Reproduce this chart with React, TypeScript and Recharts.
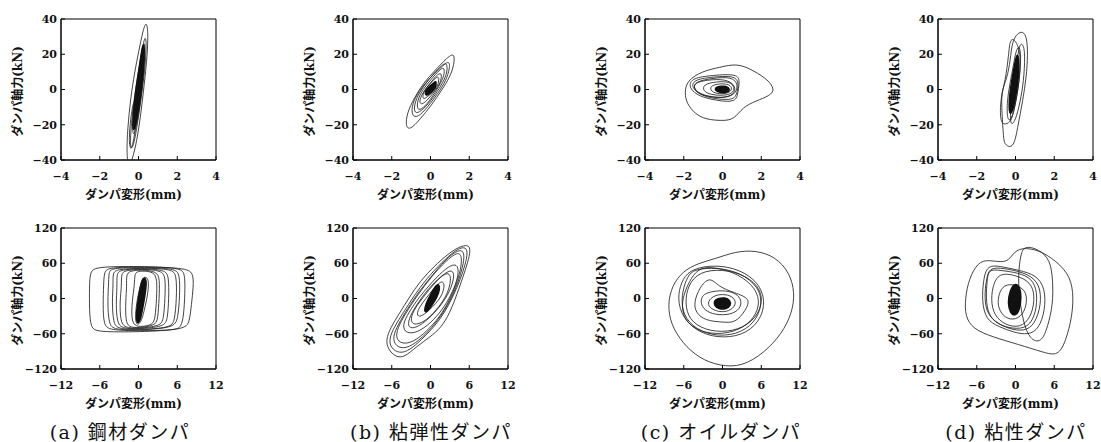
import { ReferenceArea, Scatter, ScatterChart, XAxis, YAxis } from 'recharts';

// Damper hysteresis loops: small excitation (top row), large excitation (bottom row).
// Each loop is a list of [displacement mm, axial force kN] points.

type Pt = [number, number];

const smallXTicks = [-4, -2, 0, 2, 4];
const smallYTicks = [-40, -20, 0, 20, 40];
const largeXTicks = [-12, -6, 0, 6, 12];
const largeYTicks = [-120, -60, 0, 60, 120];

const captions = ['(a) 鋼材ダンパ', '(b) 粘弾性ダンパ', '(c) オイルダンパ', '(d) 粘性ダンパ'];
const xTitle = 'ダンパ変形(mm)';
const yTitle = 'ダンパ軸力(kN)';

// (a) steel damper
const steelSmall: Pt[][] = [
  [[0.4, 39], [0.5, 33], [0.46, 20], [0.3, 3], [0.12, -14], [-0.08, -29], [-0.32, -40], [-0.5, -44], [-0.62, -37], [-0.56, -22], [-0.42, -6], [-0.2, 10], [0.02, 22], [0.22, 33]],
  [[0.36, 31], [0.42, 25], [0.3, 8], [0.1, -8], [-0.1, -23], [-0.3, -34], [-0.44, -33], [-0.38, -20], [-0.2, -3], [0.02, 12], [0.22, 25]],
  [[-0.1, -8], [-0.12, -20], [-0.28, -31], [-0.42, -35], [-0.5, -28], [-0.4, -16], [-0.26, -6]],
  [[0.3, 28], [0.36, 22], [0.24, 6], [0.06, -10], [-0.12, -22], [-0.28, -27], [-0.32, -20], [-0.18, -5], [0.02, 10], [0.18, 22]],
  [[0.26, 26], [0.3, 20], [0.18, 5], [0.02, -8], [-0.14, -20], [-0.24, -22], [-0.24, -14], [-0.1, 0], [0.06, 12], [0.18, 22]],
];
const steelSmallCore: Pt[] = [[0.3, 27], [0.3, 16], [0.16, 0], [0, -12], [-0.18, -22], [-0.3, -24], [-0.28, -14], [-0.14, 0], [0.04, 12], [0.18, 24]];

const steelLarge: Pt[][] = [
  [[-6.6, 54], [0, 55], [7.2, 52], [8.5, 44], [8.5, 20], [8.2, -10], [7.9, -40], [7.2, -53], [0, -57], [-6.4, -57], [-7.4, -50], [-7.6, -20], [-7.6, 20], [-7.5, 46]],
  [[-4.6, 53], [1, 54], [6.4, 52], [7.2, 44], [7.2, 10], [7.0, -30], [6.6, -48], [5.8, -54], [0, -55], [-4.5, -54], [-5.4, -45], [-5.5, -10], [-5.4, 25], [-5.3, 46]],
  [[-4.0, 52], [1, 53], [5.6, 51], [6.4, 42], [6.4, 5], [6.1, -35], [5.5, -50], [0, -54], [-3.8, -53], [-4.6, -44], [-4.8, -5], [-4.6, 30], [-4.6, 46]],
  [[-3.3, 50], [1, 52], [5.2, 50], [5.9, 40], [5.9, 0], [5.6, -38], [5.0, -50], [0, -53], [-3.2, -52], [-3.9, -42], [-4.1, -5], [-3.9, 25], [-4.0, 44]],
  [[-2.8, 49], [0.5, 51], [4.1, 49], [4.7, 38], [4.7, 0], [4.5, -35], [4.0, -48], [0, -52], [-2.7, -51], [-3.3, -40], [-3.5, -10], [-3.3, 20], [-3.4, 42]],
  [[-2.1, 48], [0.5, 50], [3.6, 48], [4.2, 36], [4.1, 0], [3.9, -35], [3.4, -47], [0, -51], [-2.2, -50], [-2.8, -38], [-2.9, -5], [-2.6, 22], [-2.7, 42]],
  [[-1.4, 47], [0.5, 49], [2.8, 46], [3.3, 34], [3.2, 0], [3.0, -35], [2.6, -46], [0, -50], [-1.5, -49], [-2.0, -38], [-2.0, -5], [-1.8, 22], [-1.9, 40]],
  [[-0.3, 46], [0.8, 47], [2.4, 45], [2.9, 32], [2.8, 0], [2.6, -33], [2.2, -45], [0.5, -48], [-0.6, -47], [-1.1, -35], [-1.0, -5], [-0.6, 25], [-0.6, 40]],
  [[1.0, 38], [1.6, 33], [1.5, 10], [1.0, -15], [0.5, -38], [-0.1, -46], [-0.5, -40], [-0.4, -15], [0, 10], [0.5, 32]],
];
const steelLargeCore: Pt[] = [[0.9, 36], [1.3, 30], [1.0, 5], [0.6, -20], [0.2, -40], [-0.2, -43], [-0.4, -30], [-0.1, -5], [0.3, 20], [0.6, 33]];

// (b) viscoelastic damper
const viscoelasticSmall: Pt[][] = [
  [[1.25, 21], [1.22, 14], [1.0, 7], [0.6, 0], [0.05, -9], [-0.55, -17], [-1.05, -23], [-1.3, -21], [-1.2, -13], [-0.85, -5], [-0.35, 4], [0.25, 11], [0.85, 18]],
  [[0.98, 17], [1.0, 12], [0.8, 5], [0.4, -2], [-0.15, -10], [-0.65, -16], [-0.98, -15], [-0.95, -8], [-0.6, -1], [-0.1, 6], [0.5, 12]],
  [[0.85, 15.5], [0.88, 10], [0.65, 4], [0.25, -3], [-0.25, -10], [-0.7, -14], [-0.88, -12], [-0.75, -5], [-0.35, 2], [0.15, 9], [0.6, 14]],
  [[0.72, 13], [0.72, 8], [0.45, 2], [0.05, -5], [-0.4, -11], [-0.7, -12], [-0.68, -6], [-0.4, 0], [0.05, 6], [0.45, 11]],
  [[0.58, 10], [0.56, 5], [0.3, 0], [-0.08, -5], [-0.45, -9], [-0.6, -7], [-0.42, -2], [-0.05, 3], [0.3, 8]],
  [[0.45, 8], [0.42, 3], [0.18, -1], [-0.15, -4], [-0.4, -6], [-0.4, -2], [-0.15, 2], [0.2, 6]],
];
const viscoelasticSmallCore: Pt[] = [[0.3, 5], [0.28, 1], [0.02, -2], [-0.25, -4], [-0.3, -1], [-0.05, 2], [0.2, 4]];

const viscoelasticLarge: Pt[][] = [
  [[5.9, 92], [6.2, 82], [5.8, 62], [5.0, 36], [4.2, 10], [3.0, -25], [1.6, -50], [0, -65], [-2.2, -82], [-4.0, -100], [-5.4, -100], [-6.6, -86], [-6.9, -70], [-6.2, -50], [-4.8, -25], [-3.4, 0], [-1.6, 30], [0.6, 55], [2.6, 75], [4.4, 88]],
  [[5.3, 89], [5.8, 80], [5.4, 58], [4.6, 32], [3.6, 6], [2.2, -24], [0.6, -48], [-1.4, -70], [-3.2, -88], [-4.8, -94], [-6.2, -84], [-6.4, -68], [-5.6, -48], [-4.2, -24], [-2.6, 4], [-0.6, 34], [1.8, 62], [3.8, 82]],
  [[4.7, 85], [5.3, 76], [5.0, 54], [4.3, 28], [3.3, 2], [1.9, -26], [0.2, -50], [-1.8, -72], [-3.8, -86], [-5.4, -82], [-5.9, -66], [-5.0, -44], [-3.6, -18], [-1.8, 12], [0.6, 44], [2.8, 72]],
  [[4.2, 80], [4.9, 72], [4.7, 50], [4.0, 24], [2.9, -4], [1.4, -32], [-0.6, -56], [-2.6, -74], [-4.4, -78], [-5.4, -68], [-5.1, -50], [-3.9, -26], [-2.0, 6], [0.2, 38], [2.4, 64]],
  [[3.2, 50], [3.7, 42], [3.4, 24], [2.5, 2], [1.0, -20], [-0.8, -40], [-2.6, -52], [-3.6, -48], [-3.2, -30], [-2.0, -8], [-0.4, 16], [1.6, 38]],
  [[3.9, 60], [4.4, 50], [4.1, 30], [3.2, 6], [1.8, -20], [0, -42], [-2.0, -58], [-3.8, -60], [-4.4, -46], [-3.4, -24], [-1.8, 2], [0.4, 30], [2.4, 52]],
  [[2.8, 44], [3.2, 36], [2.9, 16], [2.0, -4], [0.6, -24], [-1.0, -40], [-2.6, -46], [-3.2, -36], [-2.4, -16], [-1.0, 4], [0.6, 26], [1.9, 40]],
  [[1.9, 30], [2.2, 22], [1.8, 6], [0.9, -8], [-0.4, -22], [-1.6, -32], [-2.2, -28], [-1.7, -14], [-0.7, 0], [0.4, 16], [1.3, 26]],
];
const viscoelasticLargeCore: Pt[] = [[1.2, 26], [1.5, 16], [1.0, 2], [0.2, -12], [-0.6, -24], [-1.0, -22], [-0.7, -8], [0, 6], [0.7, 20]];

// (c) oil damper
const oilSmall: Pt[][] = [
  [[-1.02, 10.5], [-0.16, 12.5], [0.78, 15], [1.64, 10.5], [2.35, 5.5], [2.7, 0], [2.45, -3.5], [1.73, -6.5], [1.04, -10], [0.61, -17], [0, -17.8], [-0.85, -17], [-1.4, -14], [-1.85, -8], [-1.95, -2], [-1.85, 5]],
  [[-1.63, 6.3], [-0.68, 7.9], [0.7, 9], [0.9, 5.5], [0.8, -1], [0.72, -7.5], [-0.34, -6.2], [-1.2, -4], [-1.75, 0.8]],
  [[-1.5, 5.5], [-0.6, 7], [0.6, 8], [0.85, 4], [0.75, -2], [0.6, -6], [-0.3, -5.5], [-1.1, -3.5], [-1.6, 1]],
  [[-1.4, 4.5], [-0.5, 6.5], [0.5, 7.2], [0.8, 3], [0.7, -2], [0.3, -4.5], [-0.5, -4.5], [-1.2, -2.5], [-1.5, 1]],
  [[-1.55, 3.5], [-0.8, 5.5], [0.2, 6], [0.7, 2], [0.6, -3], [0, -5], [-0.8, -4], [-1.4, -1.5]],
  [[-1.0, 3], [-0.3, 4.5], [0.4, 4.5], [0.65, 1], [0.5, -2.5], [0, -3.5], [-0.6, -3], [-1.0, -1]],
  [[-0.6, 2.5], [0, 3.5], [0.45, 2.5], [0.5, -0.5], [0.2, -2.5], [-0.3, -2.5], [-0.65, -0.5]],
];
const oilSmallCore: Pt[] = [[-0.35, 1.6], [0.1, 2.2], [0.4, 0.6], [0.3, -1.6], [-0.1, -2], [-0.4, -0.6]];

const oilLarge: Pt[][] = [
  [[-1.0, 68], [2.0, 80], [5.2, 82], [8.2, 71], [10.4, 44], [11.2, 10], [10.8, -24], [9.2, -60], [6.4, -93], [3.0, -116], [-0.4, -115], [-3.6, -102], [-6.2, -76], [-8.0, -44], [-8.5, -10], [-7.8, 22], [-6.2, 46], [-3.8, 60]],
  [[-5.2, 48], [-2.0, 57], [1.8, 53], [5.0, 34], [6.6, 4], [6.2, -32], [3.8, -60], [0.2, -68], [-3.4, -60], [-6.2, -34], [-7.0, 0], [-6.4, 28]],
  [[-4.4, 50], [-0.8, 53], [2.8, 44], [5.6, 20], [6.2, -10], [5.0, -42], [2.2, -62], [-1.6, -64], [-4.8, -48], [-6.4, -20], [-6.2, 14], [-5.4, 38]],
  [[-2.6, 55], [0.8, 49], [4.0, 31], [5.8, 4], [5.4, -26], [3.4, -50], [0, -62], [-3.6, -57], [-6.0, -37], [-6.4, -6], [-5.4, 24], [-4.2, 46]],
  [[-3.6, 46], [0, 50], [3.6, 40], [6.2, 14], [6.0, -20], [4.0, -46], [0.8, -58], [-2.8, -54], [-5.2, -36], [-5.8, -8], [-5.4, 22]],
  [[-2.0, 38], [-0.6, 20], [1.8, 10], [4.4, 0], [3.6, -20], [2.0, -42], [0, -40], [-2.6, -38], [-4.2, -24], [-4.4, -6], [-3.6, 18]],
  [[-2.4, 10], [-0.6, 14], [1.6, 12], [3.0, 0], [2.8, -18], [1.2, -28], [-1.2, -28], [-2.8, -20], [-3.4, -8], [-3.2, 4]],
  [[-1.6, 4], [0, 8], [1.6, 4], [2.2, -8], [1.4, -20], [-0.2, -24], [-1.8, -18], [-2.4, -8]],
];
const oilLargeCore: Pt[] = [[-0.8, 0], [0.4, 2], [1.2, -3], [1.3, -12], [0.6, -18], [-0.6, -18], [-1.3, -12], [-1.3, -4]];

// (d) viscous damper
const viscousSmall: Pt[][] = [
  [[0.1, 32], [0.38, 33], [0.58, 30], [0.64, 20], [0.56, 7], [0.38, -6], [0.12, -21], [-0.05, -31], [-0.3, -33], [-0.55, -31], [-0.62, -28], [-0.7, -13], [-0.74, -1], [-0.44, 6], [-0.26, 17], [-0.18, 27]],
  [[-0.16, 29], [0.05, 27], [0.28, 20], [0.2, 4], [-0.05, -11], [-0.22, -18], [-0.5, -20], [-0.8, -19], [-0.78, -5], [-0.52, 5], [-0.35, 20], [-0.3, 27]],
  [[0.3, 27], [0.5, 23], [0.45, 8], [0.3, -4], [0.05, -16], [-0.2, -21], [-0.3, -16], [-0.15, -3], [0.05, 12], [0.15, 23]],
  [[0.18, 25], [0.3, 20], [0.2, 5], [0, -8], [-0.2, -17], [-0.42, -18], [-0.45, -8], [-0.3, 3], [-0.1, 14], [0.02, 22]],
];
const viscousSmallCore: Pt[] = [[0.12, 22], [0.2, 12], [0.08, 0], [-0.12, -12], [-0.32, -15], [-0.34, -6], [-0.2, 5], [-0.02, 16]];

const viscousLarge: Pt[][] = [
  [[0.4, 86], [3.0, 85], [5.6, 70], [8.2, 44], [9.0, 12], [8.8, -30], [7.8, -72], [6.6, -98], [4.4, -92], [0.4, -78], [-3.4, -66], [-6.6, -52], [-7.8, -30], [-7.8, 0], [-7.2, 34], [-5.8, 62], [-4.2, 66], [-1.6, 60], [-0.6, 72]],
  [[1.4, 90], [3.6, 84], [5.4, 66], [5.8, 30], [5.8, -10], [5.0, -48], [4.0, -76], [2.2, -70], [1.2, -40], [0.6, 0], [0.4, 40], [0.8, 76]],
  [[-4.4, 58], [-2.0, 54], [0.6, 48], [3.2, 40], [4.6, 18], [4.6, -20], [3.6, -52], [2.0, -62], [-0.2, -58], [-2.6, -48], [-4.6, -36], [-5.2, -4], [-5.0, 30]],
  [[-3.8, 54], [-1.0, 50], [2.0, 42], [3.8, 24], [4.0, -10], [3.0, -44], [1.4, -56], [-1.0, -52], [-3.2, -40], [-4.6, -22], [-4.8, 10], [-4.4, 40]],
  [[-4.2, 50], [-2.4, 48], [0.4, 44], [2.6, 34], [3.4, 10], [3.2, -24], [2.0, -50], [-0.4, -52], [-2.8, -44], [-4.2, -28], [-4.6, 0], [-4.4, 30]],
  [[-2.6, 44], [0, 40], [2.4, 28], [3.0, 4], [2.6, -26], [1.2, -48], [-1.0, -48], [-3.0, -34], [-3.8, -10], [-3.6, 20]],
  [[-1.8, 24], [0, 24], [1.6, 14], [1.8, -6], [1.2, -28], [-0.4, -38], [-2.0, -30], [-2.8, -12], [-2.6, 8]],
];
const viscousLargeCore: Pt[] = [[-0.2, 26], [0.6, 22], [0.9, 5], [0.7, -18], [0, -30], [-0.8, -26], [-1.2, -8], [-0.9, 12]];

const plotLefts = [61, 353, 645, 938];
const captionCenters = [120, 431, 721, 1016];

const NUM_FONT = "'DejaVu Serif', serif";
const JP_FONT = "'DejaVu Serif', 'Noto Sans CJK JP', sans-serif";

const fmt = (v: number) => (v < 0 ? '\u2212' + Math.abs(v) : String(v));
const toData = (loop: Pt[]) => loop.map(([x, y]) => ({ x, y }));
const NoDot = () => <g />;

const renderXTitle = (p: any) => {
  const vb = p.viewBox ?? { x: 61, y: 151, width: 155, height: 50 };
  return (
    <text
      x={vb.x + vb.width / 2 - 5}
      y={vb.y + 35}
      textAnchor="middle"
      dominantBaseline="central"
      fontFamily={JP_FONT}
      fontWeight="bold"
      fontSize={12}
      fill="#111"
    >
      {xTitle}
    </text>
  );
};

const renderYTitle = (p: any) => {
  const vb = p.viewBox ?? { x: 0, y: 10, width: 61, height: 141 };
  const cx = vb.x + 18;
  const cy = vb.y + vb.height / 2 + 2;
  return (
    <text
      x={cx}
      y={cy}
      transform={`rotate(-90 ${cx} ${cy})`}
      textAnchor="middle"
      dominantBaseline="central"
      fontFamily={JP_FONT}
      fontWeight="bold"
      fontSize={12}
      fill="#111"
    >
      {yTitle}
    </text>
  );
};

interface PanelProps {
  left: number;
  top: number;
  loops: Pt[][];
  core: Pt[];
  xTicks: number[];
  yTicks: number[];
}

function Panel({ left, top, loops, core, xTicks, yTicks }: PanelProps) {
  const xMin = xTicks[0];
  const xMax = xTicks[xTicks.length - 1];
  const yMin = yTicks[0];
  const yMax = yTicks[yTicks.length - 1];
  const tick = { fontSize: 11, fontFamily: NUM_FONT, fontWeight: 'bold', fill: '#111' };
  return (
    <div style={{ position: 'absolute', left: left - 61, top: top - 10 }}>
      <ScatterChart width={226} height={201} margin={{ top: 10, right: 10, bottom: 0, left: 0 }}>
        <XAxis
          type="number"
          dataKey="x"
          domain={[xMin, xMax]}
          ticks={xTicks}
          interval={0}
          allowDataOverflow
          tickFormatter={fmt}
          tick={tick}
          tickSize={-4}
          tickMargin={16}
          tickLine={{ stroke: '#000' }}
          axisLine={{ stroke: '#000' }}
          height={50}
          label={{ content: renderXTitle }}
        />
        <YAxis
          type="number"
          dataKey="y"
          domain={[yMin, yMax]}
          ticks={yTicks}
          interval={0}
          allowDataOverflow
          tickFormatter={fmt}
          tick={tick}
          tickSize={-4}
          tickMargin={8}
          tickLine={{ stroke: '#000' }}
          axisLine={{ stroke: '#000' }}
          width={61}
          label={{ content: renderYTitle }}
        />
        <ReferenceArea x1={xMin} x2={xMax} y1={yMin} y2={yMax} fill="none" stroke="#000" strokeWidth={1} />
        {loops.map((loop, i) => (
          <Scatter
            key={i}
            data={toData(loop)}
            fill="#222"
            line={{ stroke: '#222', strokeWidth: 0.85 }}
            lineJointType="basisClosed"
            shape={NoDot}
            isAnimationActive={false}
          />
        ))}
        <Scatter
          data={toData(core)}
          fill="#111"
          line={{ stroke: '#111', strokeWidth: 1.5, fill: '#111' }}
          lineJointType="basisClosed"
          shape={NoDot}
          isAnimationActive={false}
        />
      </ScatterChart>
    </div>
  );
}

const smallSets = [
  { loops: steelSmall, core: steelSmallCore },
  { loops: viscoelasticSmall, core: viscoelasticSmallCore },
  { loops: oilSmall, core: oilSmallCore },
  { loops: viscousSmall, core: viscousSmallCore },
];
const largeSets = [
  { loops: steelLarge, core: steelLargeCore },
  { loops: viscoelasticLarge, core: viscoelasticLargeCore },
  { loops: oilLarge, core: oilLargeCore },
  { loops: viscousLarge, core: viscousLargeCore },
];

export default function App() {
  return (
    <div style={{ position: 'absolute', left: 0, top: 0, width: 1101, height: 442, background: '#fff', overflow: 'hidden' }}>
      {smallSets.map((s, i) => (
        <Panel key={'s' + i} left={plotLefts[i]} top={19} loops={s.loops} core={s.core} xTicks={smallXTicks} yTicks={smallYTicks} />
      ))}
      {largeSets.map((s, i) => (
        <Panel key={'l' + i} left={plotLefts[i]} top={228} loops={s.loops} core={s.core} xTicks={largeXTicks} yTicks={largeYTicks} />
      ))}
      {captions.map((c, i) => (
        <div
          key={c}
          style={{
            position: 'absolute',
            left: captionCenters[i] - 110,
            top: 421,
            width: 220,
            textAlign: 'center',
            fontFamily: JP_FONT,
            fontSize: 19,
            letterSpacing: '1.5px',
            lineHeight: '22px',
            color: '#111',
            whiteSpace: 'nowrap',
          }}
        >
          {c}
        </div>
      ))}
    </div>
  );
}
